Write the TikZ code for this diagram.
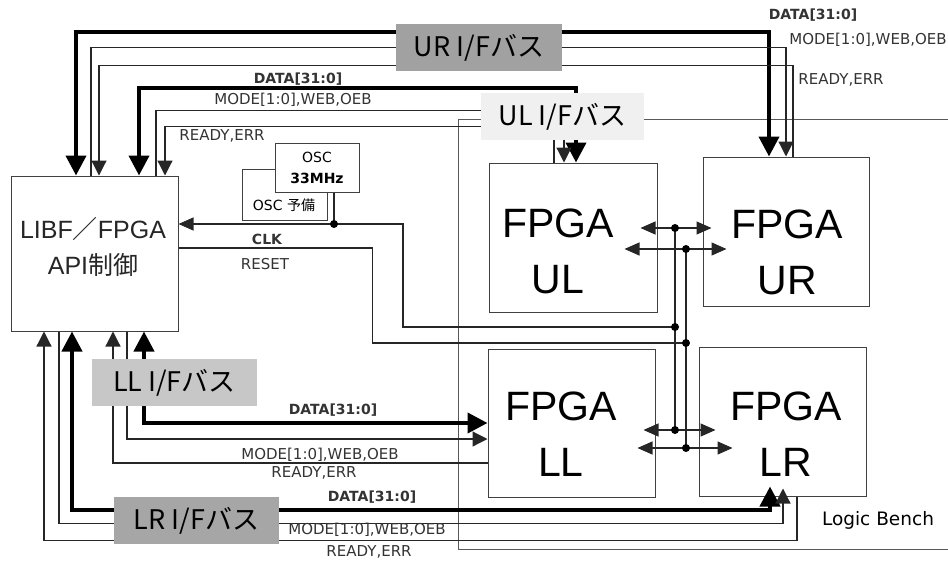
\documentclass[tikz,border=0pt]{standalone}
\usepackage{fontspec}
\setmainfont{Liberation Sans}
\newfontfamily\cjk{Noto Sans CJK JP}
\newfontfamily\dejavu{DejaVu Sans}
\usetikzlibrary{arrows.meta}

\begin{document}
\begin{tikzpicture}[x=1pt, y=-1pt,
        bigarr/.tip={Triangle[width=20pt,length=20pt]},
        smallarr/.tip={Triangle[width=15pt,length=15pt]},
        midarr/.tip={Triangle[width=13pt,length=15pt]},
        box/.style={draw=black!75, line width=1pt, fill=white, rectangle, inner sep=0pt},
        fpga/.style={box, minimum width=167pt, minimum height=149pt},
        fpgatext/.style={align=center, inner sep=0pt, font=\fontsize{41}{56}\selectfont},
        bus/.style={fill=#1, inner sep=0pt, minimum width=166pt, minimum height=47pt, font=\cjk\fontsize{27}{27}\selectfont},
        sig/.style={inner sep=0pt, text=black!80, font=\dejavu\fontsize{15}{18}\selectfont},
        sigbold/.style={sig, font=\dejavu\bfseries\fontsize{14}{18}\selectfont},
        data/.style={line width=4pt},
        wire/.style={line width=1.2pt, draw=black!85}
    ]
    \useasboundingbox (0,0) rectangle (948,563);

    % logic bench outline
    \draw[line width=1pt, draw=black!65] (948,119) -| (458,549) -- (948,549);
    \node[font=\dejavu\fontsize{18.5}{20}\selectfont] (bench) at (878,520) {Logic Bench};

    % control side
    \node[box, minimum width=167pt, minimum height=155pt] (libf) at (94.5,253.5) {};
    \node[align=center, inner sep=0pt, text=black!85, font=\fontsize{25}{36}\selectfont] (libftxt) at (93,247) {LIBF{\cjk ／}FPGA\\API{\cjk 制御}};
    \node[box, minimum width=85pt, minimum height=51pt] (oscsub) at (284.5,194.5) {};
    \node[sig, text=black, font=\dejavu\fontsize{14}{16}\selectfont] (oscsubtxt) at (284,205) {OSC {\cjk 予備}};
    \node[box, minimum width=84pt, minimum height=49pt, align=center, font=\dejavu\fontsize{14}{21}\selectfont] (osc) at (317,167.5) {OSC\\\textbf{33MHz}};

    % FPGAs
    \node[fpga, minimum width=168pt] (ul) at (573,237.5) {};
    \node[fpga, minimum width=166pt] (ur) at (786,231.5) {};
    \node[fpga, minimum height=148pt] (ll) at (571.5,423) {};
    \node[fpga] (lr) at (782.5,421.5) {};
    \node[fpgatext] (ultxt) at (558,251.5) {FPGA\\UL};
    \node[fpgatext] (urtxt) at (787,252) {FPGA\\UR};
    \node[fpgatext] (lltxt) at (561,434.5) {FPGA\\LL};
    \node[fpgatext] (lrtxt) at (786,434.5) {FPGA\\LR};

    % clock and reset
    \coordinate (clkdot) at (334,224);
    \coordinate (clkA) at (675,228);
    \coordinate (clkhub) at (675,327);
    \coordinate (clkB) at (675,430);
    \coordinate (rstA) at (686,249);
    \coordinate (rsthub) at (686,343);
    \coordinate (rstB) at (686,448);

    \draw[wire] ([xshift=17pt]osc.south) -- (clkdot);
    \draw[wire, -midarr] (clkdot) -- (libf.east |- clkdot);
    \draw[wire] (clkdot) -- ++(69,0) |- (clkhub);
    \draw[wire] (clkA) -- (clkB);
    \draw[wire] ([yshift=5.5pt]libf.east) -- ++(194,0) |- (rsthub);
    \draw[wire] (rstA) -- (rstB);
    \draw[wire, midarr-midarr] ([xshift=-17pt]ul.east |- clkA) -- ([xshift=9pt]ur.west |- clkA);
    \draw[wire, midarr-midarr] ([xshift=-33pt]ul.east |- rstA) -- ([xshift=24pt]ur.west |- rstA);
    \draw[wire, midarr-midarr] ([xshift=-12pt]ll.east |- clkB) -- ([xshift=17pt]lr.west |- clkB);
    \draw[wire, midarr-midarr] ([xshift=-18pt]ll.east |- rstB) -- ([xshift=34pt]lr.west |- rstB);
    \foreach \c in {clkdot,clkA,clkhub,clkB,rstA,rsthub,rstB}
        \fill (\c) circle (4pt);

    % UR bus
    \draw[data, bigarr-bigarr] ([xshift=-18.5pt]libf.north) -- ++(0,-144) -| ([xshift=-17pt]ur.north);
    \draw[wire, -smallarr] ([xshift=-3.5pt]libf.north) -- ++(0,-128) -| (ur.north);
    \draw[wire, smallarr-] ([xshift=4.5pt]libf.north) -- ++(0,-110) -| ([xshift=7pt]ur.north);
    % UL bus
    \draw[data, bigarr-bigarr] ([xshift=44.5pt]libf.north) -- ++(0,-88) -| ([xshift=3pt]ul.north);
    \draw[wire, -smallarr] ([xshift=61.5pt]libf.north) -- ++(0,-65) -| ([xshift=-9pt]ul.north);
    \draw[wire, smallarr-] ([xshift=70.5pt]libf.north) -- ++(0,-49) -| ([xshift=-19pt]ul.north);
    % LL bus
    \draw[data, bigarr-bigarr] ([xshift=49.5pt]libf.south) |- (ll.west);
    \draw[wire, -smallarr] ([xshift=32.5pt]libf.south) |- ([yshift=-16pt]ll.west);
    \draw[wire, smallarr-] ([xshift=18.5pt]libf.south) |- ([yshift=-40pt]ll.west);
    % LR bus
    \draw[data, bigarr-bigarr] ([xshift=-22.5pt]libf.south) -- ++(0,178) -| ([xshift=-12.5pt,yshift=10pt]lr.south);
    \draw[wire, -smallarr] ([xshift=-35.5pt]libf.south) -- ++(0,192) -| ([xshift=0.5pt,yshift=8pt]lr.south);
    \draw[wire, smallarr-] ([xshift=-50.5pt]libf.south) -- ++(0,209) -| ([xshift=14.5pt]lr.south);

    % bus labels
    \node[bus=black!37] (urbus) at (479,47.5) {UR I/Fバス};
    \node[bus=black!6, minimum width=163pt] (ulbus) at (562.5,116.5) {UL I/Fバス};
    \node[bus=black!22, minimum width=165pt] (llbus) at (174.5,382.5) {LL I/Fバス};
    \node[bus=black!35, minimum width=165pt] (lrbus) at (196.5,520.5) {LR I/Fバス};

    % signal names
    \node[sigbold] (urdata) at (813,15) {DATA[31:0]};
    \node[sig] (urmode) at (868,40) {MODE[1:0],WEB,OEB};
    \node[sig] (urready) at (841,80) {READY,ERR};
    \node[sigbold] (uldata) at (298,79) {DATA[31:0]};
    \node[sig] (ulmode) at (293,100) {MODE[1:0],WEB,OEB};
    \node[sig] (ulready) at (222,136) {READY,ERR};
    \node[sigbold] (lldata) at (333,410) {DATA[31:0]};
    \node[sig] (llmode) at (320,455) {MODE[1:0],WEB,OEB};
    \node[sig] (llready) at (314,473) {READY,ERR};
    \node[sigbold] (lrdata) at (372,497) {DATA[31:0]};
    \node[sig] (lrmode) at (367,530) {MODE[1:0],WEB,OEB};
    \node[sig] (lrready) at (369,552) {READY,ERR};
    \node[sigbold] (clk) at (267,239) {CLK};
    \node[sig] (rst) at (265,264) {RESET};
\end{tikzpicture}
\end{document}
